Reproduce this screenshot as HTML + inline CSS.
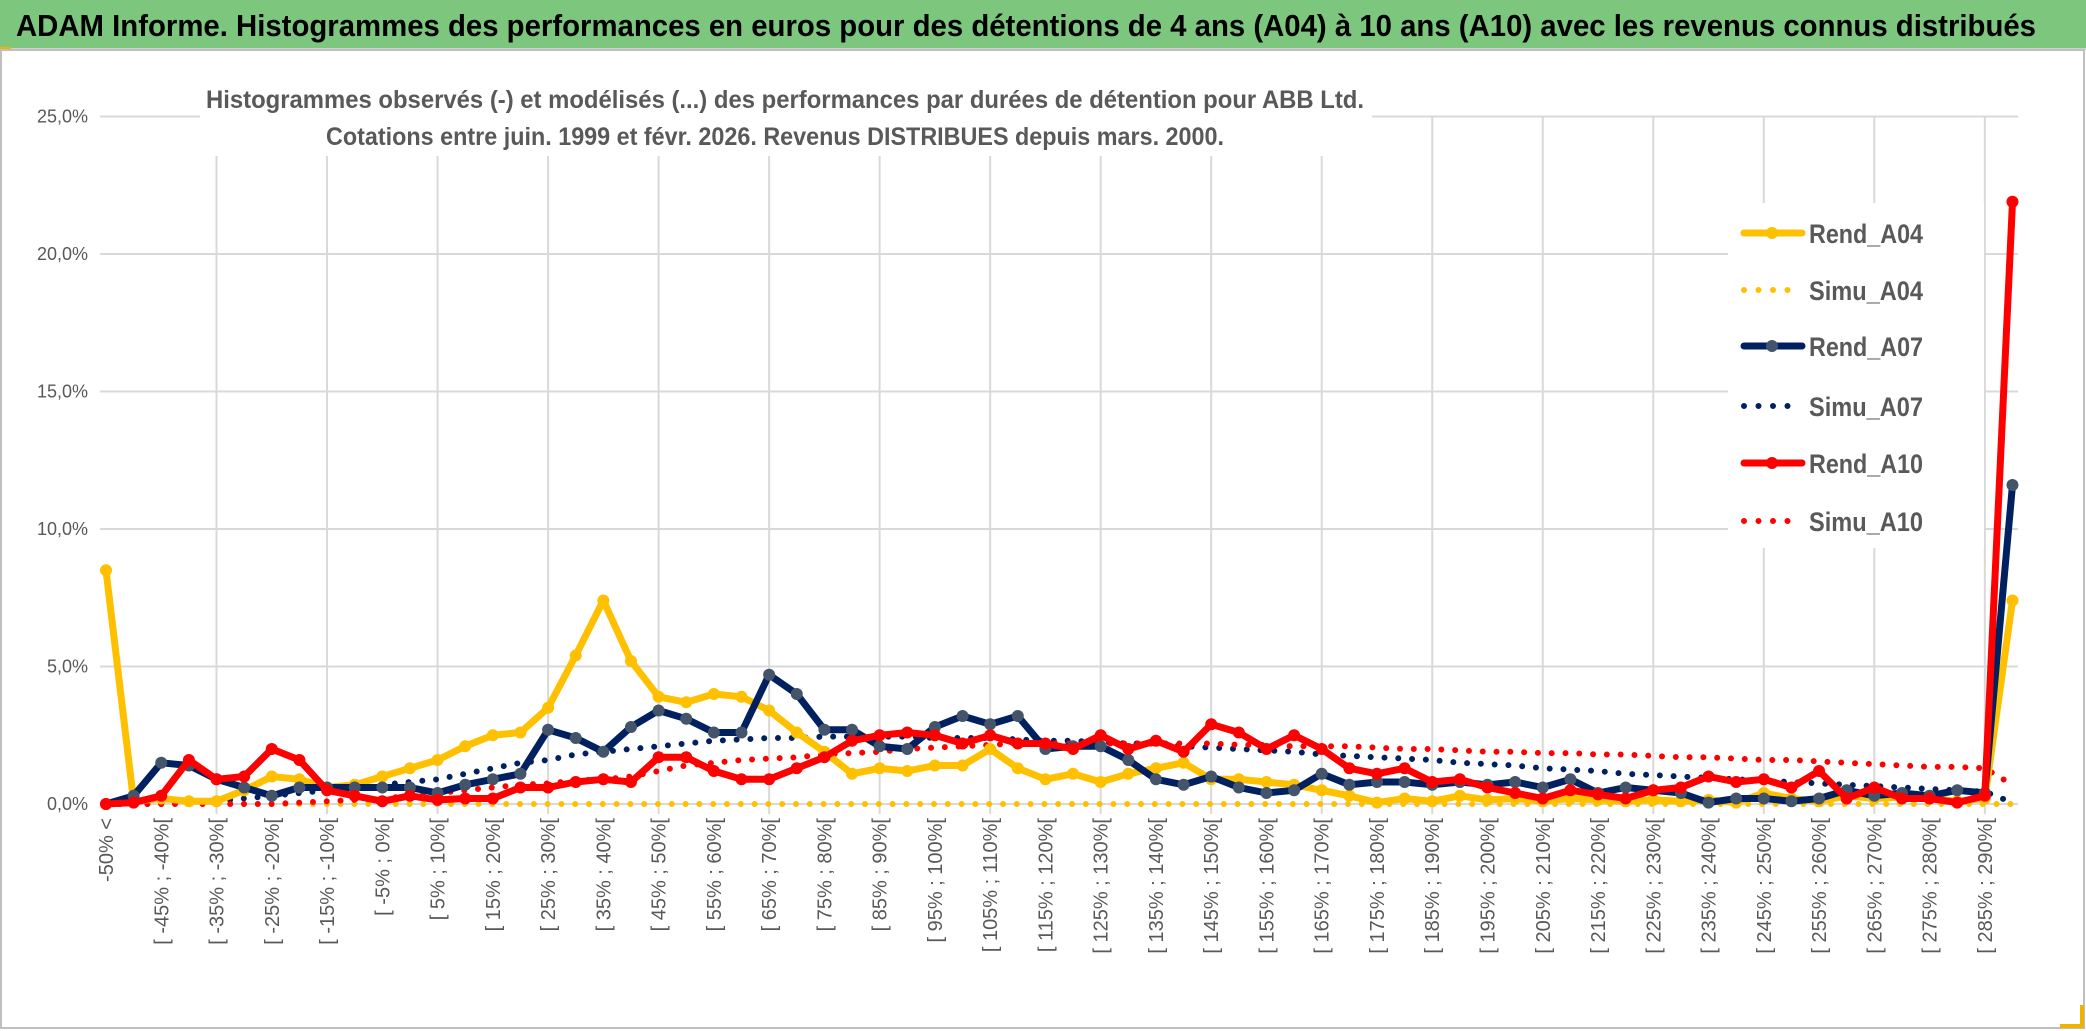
<!DOCTYPE html>
<html><head><meta charset="utf-8">
<style>
html,body{margin:0;padding:0;background:#fff;}
svg{display:block;font-family:"Liberation Sans",sans-serif;}
</style></head>
<body>
<svg id="chart" width="2086" height="1031" viewBox="0 0 2086 1031" xmlns="http://www.w3.org/2000/svg">
  <rect x="0" y="0" width="2086" height="1031" fill="#ffffff"/>
  <rect x="0" y="0" width="2086" height="48" fill="#7dc67e"/>
  <line x1="0" y1="49" x2="2086" y2="49" stroke="#d0d0d0" stroke-width="2"/>
  <rect x="0" y="47" width="11" height="4" fill="#f0b400"/>
  <text x="16" y="36" font-size="31" font-weight="bold" fill="#000" textLength="2020" lengthAdjust="spacingAndGlyphs">ADAM Informe. Histogrammes des performances en euros pour des détentions de 4 ans (A04) à 10 ans (A10) avec les revenus connus distribués</text>
  <rect x="1" y="50" width="2083" height="978" fill="none" stroke="#bfbfbf" stroke-width="2"/>
  <g id="grid"></g>
  <g id="yaxis"></g>
  <g id="xaxis"></g>
  <rect x="200" y="72" width="1172" height="84" fill="#fff"/>
  <text x="785" y="108" text-anchor="middle" font-size="25" font-weight="bold" fill="#595959" textLength="1158" lengthAdjust="spacingAndGlyphs">Histogrammes observés (-) et modélisés (...) des performances par durées de détention pour ABB Ltd.</text>
  <text x="775" y="145" text-anchor="middle" font-size="25" font-weight="bold" fill="#595959" textLength="898" lengthAdjust="spacingAndGlyphs">Cotations entre juin. 1999 et févr. 2026. Revenus DISTRIBUES depuis mars. 2000.</text>
  <g id="series"></g>
  <g id="legend"></g>
  <polyline points="2060,1026 2082,1026 2082,1005" fill="none" stroke="#f0b400" stroke-width="4"/>
</svg>
<script>
const categories = ["-50% <"];
for (let v = -50; v < 295; v += 5) categories.push("[ " + v + "% ; " + (v + 5) + "%[");
categories[69] = "> 290%";

const rendA04 = [8.5,0.1,0.2,0.1,0.1,0.5,1.0,0.9,0.6,0.7,1.0,1.3,1.6,2.1,2.5,2.6,3.5,5.4,7.4,5.2,3.9,3.7,4.0,3.9,3.4,2.6,1.9,1.1,1.3,1.2,1.4,1.4,2.0,1.3,0.9,1.1,0.8,1.1,1.3,1.5,0.9,0.9,0.8,0.7,0.5,0.3,0.05,0.2,0.1,0.3,0.15,0.2,0.1,0.2,0.15,0.1,0.15,0.1,0.15,0.05,0.4,0.2,0.1,0.3,0.2,0.25,0.2,0.1,0.2,7.4];
const rendA07 = [0,0.3,1.5,1.4,0.9,0.6,0.3,0.6,0.6,0.6,0.6,0.6,0.4,0.7,0.9,1.1,2.7,2.4,1.9,2.8,3.4,3.1,2.6,2.6,4.7,4.0,2.7,2.7,2.1,2.0,2.8,3.2,2.9,3.2,2.0,2.1,2.1,1.6,0.9,0.7,1.0,0.6,0.4,0.5,1.1,0.7,0.8,0.8,0.7,0.8,0.7,0.8,0.6,0.9,0.4,0.6,0.5,0.4,0.05,0.2,0.2,0.1,0.2,0.5,0.3,0.4,0.3,0.5,0.4,11.6];
const rendA10 = [0,0.05,0.3,1.6,0.9,1.0,2.0,1.6,0.5,0.3,0.1,0.3,0.15,0.2,0.2,0.6,0.6,0.8,0.9,0.8,1.7,1.7,1.2,0.9,0.9,1.3,1.7,2.3,2.5,2.6,2.5,2.2,2.5,2.2,2.2,2.0,2.5,2.0,2.3,1.9,2.9,2.6,2.0,2.5,2.0,1.3,1.1,1.3,0.8,0.9,0.6,0.4,0.2,0.5,0.35,0.2,0.5,0.6,1.0,0.8,0.9,0.6,1.2,0.2,0.6,0.2,0.2,0.05,0.3,21.9];
const simuA04 = [0,0,0,0,0,0,0,0,0,0,0,0,0,0,0,0,0,0,0,0,0,0,0,0,0,0,0,0,0,0,0,0,0,0,0,0,0,0,0,0,0,0,0,0,0,0,0,0,0,0,0,0,0,0,0,0,0,0,0,0,0,0,0,0,0,0,0,0,0,0];
const simuA07 = [0,0,0,0.05,0.1,0.2,0.3,0.4,0.5,0.6,0.7,0.8,0.9,1.1,1.3,1.5,1.6,1.8,1.9,2.0,2.1,2.2,2.3,2.35,2.4,2.4,2.45,2.45,2.45,2.45,2.4,2.4,2.4,2.35,2.3,2.3,2.25,2.2,2.2,2.1,2.05,2.0,1.95,1.9,1.8,1.75,1.7,1.65,1.6,1.5,1.45,1.4,1.3,1.25,1.2,1.1,1.05,1.0,0.95,0.9,0.85,0.8,0.75,0.7,0.65,0.6,0.55,0.5,0.45,0.05];
const simuA10 = [0,0,0,0,0,0,0,0.05,0.1,0.15,0.2,0.3,0.4,0.5,0.6,0.7,0.75,0.85,0.9,1.0,1.2,1.4,1.5,1.6,1.65,1.7,1.8,1.85,1.9,2.0,2.05,2.1,2.15,2.2,2.2,2.2,2.2,2.2,2.2,2.2,2.2,2.15,2.15,2.1,2.1,2.1,2.05,2.0,2.0,1.95,1.9,1.9,1.85,1.85,1.8,1.8,1.75,1.7,1.7,1.65,1.6,1.6,1.55,1.5,1.45,1.4,1.35,1.35,1.3,0.7];
const yTicks = [0,5,10,15,20,25];
const yTickLabels = ["0,0%","5,0%","10,0%","15,0%","20,0%","25,0%"];

const NS = "http://www.w3.org/2000/svg";
const X0 = 106, DX = 27.63, Y0 = 804, DY = 27.5, PLOT_L = 100, PLOT_R = 2018;
function xs(i){ return X0 + DX * i; }
function ys(v){ return Y0 - DY * v; }
function mk(tag, attrs, parent){ const e = document.createElementNS(NS, tag); for (const k in attrs) e.setAttribute(k, attrs[k]); parent.appendChild(e); return e; }

const grid = document.getElementById('grid');
yTicks.forEach(function(t){
  const l = mk('line', {x1: PLOT_L, x2: PLOT_R, y1: ys(t), y2: ys(t), stroke: '#d9d9d9', 'stroke-width': 2}, grid);
  
  
});
for (let i = 4; i < categories.length; i += 4) {
  const l = mk('line', {x1: xs(i), x2: xs(i), y1: ys(25), y2: ys(0) + 10, stroke: '#d9d9d9', 'stroke-width': 2}, grid);
  
  
}
const yaxis = document.getElementById('yaxis');
yTicks.forEach(function(t, k){
  const tx = mk('text', {x: 88, y: ys(t) + 6, 'text-anchor': 'end', 'font-size': 18, fill: '#595959'}, yaxis);
  tx.textContent = yTickLabels[k];
  
  
});
const xaxis = document.getElementById('xaxis');
for (let i = 0; i < categories.length - 1; i += 2) {
  const tx = mk('text', {x: 0, y: 0, 'text-anchor': 'end', 'font-size': 20, fill: '#595959', transform: 'translate(' + (xs(i) + 7) + ',818) rotate(-90)'}, xaxis);
  tx.textContent = categories[i];
  
  
}

const series = document.getElementById('series');
function pts(arr){ return arr.map(function(v, i){ return xs(i).toFixed(1) + ',' + ys(v).toFixed(1); }).join(' '); }
function dotted(arr, color, name){
  const p = mk('polyline', {points: pts(arr), fill: 'none', stroke: color, 'stroke-width': 6, 'stroke-linecap': 'round', 'stroke-dasharray': '0 13.8'}, series);
  
  
}
function solid(arr, color, mcolor, name){
  const g = mk('g', {}, series);
  
  
  mk('polyline', {points: pts(arr), fill: 'none', stroke: color, 'stroke-width': 7, 'stroke-linejoin': 'round'}, g);
  arr.forEach(function(v, i){
    const c = mk('circle', {cx: xs(i), cy: ys(v), r: 6, fill: mcolor}, g);
    
    
  });
}
dotted(simuA04, '#ffc000', 'simu-a04-line');
dotted(simuA07, '#002060', 'simu-a07-line');
dotted(simuA10, '#ff0000', 'simu-a10-line');
solid(rendA04, '#ffc000', '#ffc000', 'rend-a04-line');
solid(rendA07, '#002060', '#44546a', 'rend-a07-line');
solid(rendA10, '#ff0000', '#ff0000', 'rend-a10-line');

const legend = document.getElementById('legend');
const lbg = mk('rect', {x: 1728, y: 203, width: 256, height: 345, fill: '#fff'}, legend);


const legItems = [
  ['Rend_A04', '#ffc000', '#ffc000', false],
  ['Simu_A04', '#ffc000', null, true],
  ['Rend_A07', '#002060', '#44546a', false],
  ['Simu_A07', '#002060', null, true],
  ['Rend_A10', '#ff0000', '#ff0000', false],
  ['Simu_A10', '#ff0000', null, true]
];
const legY = [233, 290, 346, 406, 463, 521];
legItems.forEach(function(it, k){
  const g = mk('g', {}, legend);
  
  
  const y = legY[k];
  if (it[3]) {
    mk('line', {x1: 1744, x2: 1802, y1: y, y2: y, stroke: it[1], 'stroke-width': 6, 'stroke-linecap': 'round', 'stroke-dasharray': '0 14.5'}, g);
  } else {
    mk('line', {x1: 1744, x2: 1802, y1: y, y2: y, stroke: it[1], 'stroke-width': 7, 'stroke-linecap': 'round'}, g);
    mk('circle', {cx: 1772, cy: y, r: 6, fill: it[2]}, g);
  }
  const t = mk('text', {x: 1809, y: y + 10, 'font-size': 27, 'font-weight': 'bold', fill: '#595959', textLength: 114, lengthAdjust: 'spacingAndGlyphs'}, g);
  t.textContent = it[0];
});
</script>
</body></html>
